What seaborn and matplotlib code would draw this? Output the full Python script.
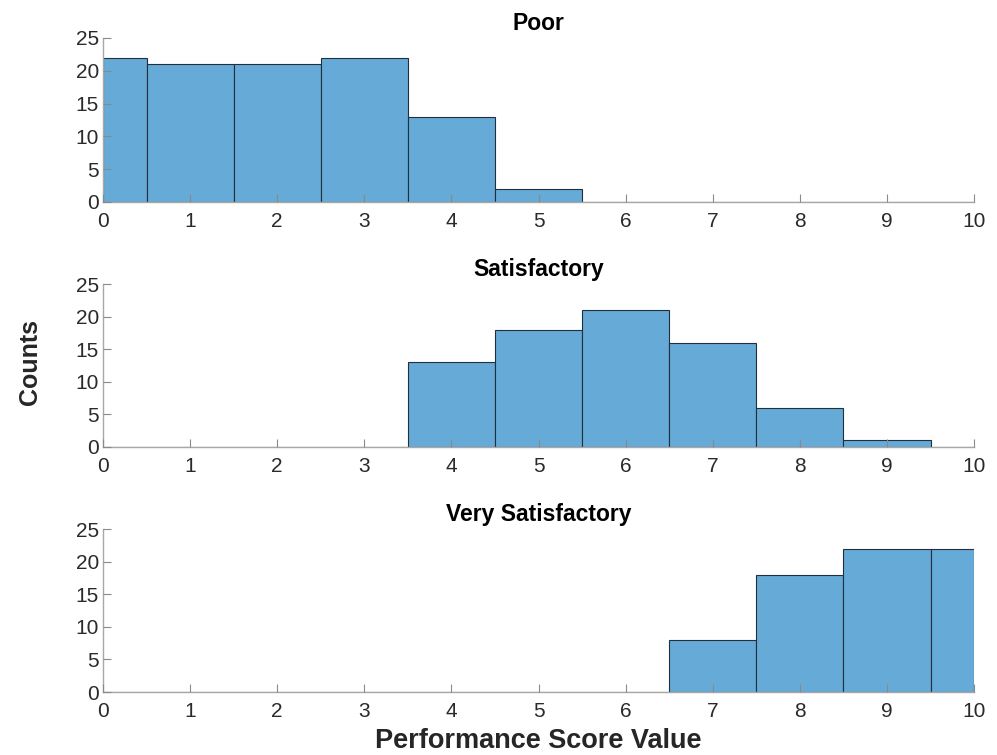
import numpy as np
import pandas as pd
import matplotlib
matplotlib.use("Agg")
import matplotlib.pyplot as plt
import seaborn as sns

# Data
titles = ["Poor", "Satisfactory", "Very Satisfactory"]
score_values = [0, 1, 2, 3, 4, 5, 6, 7, 8, 9, 10]
poor_counts = [22, 21, 21, 22, 13, 2, 0, 0, 0, 0, 0]
satisfactory_counts = [0, 0, 0, 0, 13, 18, 21, 16, 6, 1, 0]
very_satisfactory_counts = [0, 0, 0, 0, 0, 0, 0, 8, 18, 22, 22]
x_ticks = [0, 1, 2, 3, 4, 5, 6, 7, 8, 9, 10]
y_ticks = [0, 5, 10, 15, 20, 25]

sns.set_style("white")
plt.rcParams['font.family'] = ['Liberation Sans', 'DejaVu Sans']

fig = plt.figure(figsize=(9.97, 7.55), dpi=100)
left, right = 0.1033, 0.977
rows = [(0.7325, 0.9497), (0.408, 0.6238), (0.0834, 0.2993)]

bar_color = "#66AAD7"
edges = [0, 0.5] + [v + 0.5 for v in score_values[1:-1]] + [10]

for (b, t), title, counts in zip(rows, titles,
                                 [poor_counts, satisfactory_counts, very_satisfactory_counts]):
    ax = fig.add_axes([left, b, right - left, t - b])
    df = pd.DataFrame({"score": score_values, "count": counts})
    sns.histplot(data=df, x="score", weights="count", bins=edges, ax=ax,
                 color=bar_color, alpha=1.0, edgecolor="#22303d", linewidth=0.8)
    ax.set_xlim(0, 10)
    ax.set_ylim(0, 25)
    ax.set_xticks(x_ticks)
    ax.set_yticks(y_ticks)
    ax.set_xlabel("")
    ax.set_ylabel("")
    ax.set_axisbelow(False)
    ax.set_title(title, fontsize=16.5, fontweight="bold", pad=6, color="black")
    for s in ["top", "right"]:
        ax.spines[s].set_visible(False)
    for s in ["left", "bottom"]:
        ax.spines[s].set_color("#a8a8a8")
        ax.spines[s].set_linewidth(1.0)
    ax.tick_params(axis="both", which="major", bottom=True, left=True,
                   direction="in", length=6, width=0.8,
                   color="#8a8a8a", labelsize=15, labelcolor="#2a2a2a")
    ax.tick_params(axis="x", pad=7)
    ax.tick_params(axis="y", pad=3)

fig.text(0.03, 0.52, "Counts", rotation=90, fontsize=18, fontweight="bold",
         ha="center", va="center", color="#262626")
fig.text((left + right) / 2, 0.018, "Performance Score Value", fontsize=19.5,
         fontweight="bold", ha="center", va="center", color="#262626")

fig.savefig("out.png", dpi=100)
